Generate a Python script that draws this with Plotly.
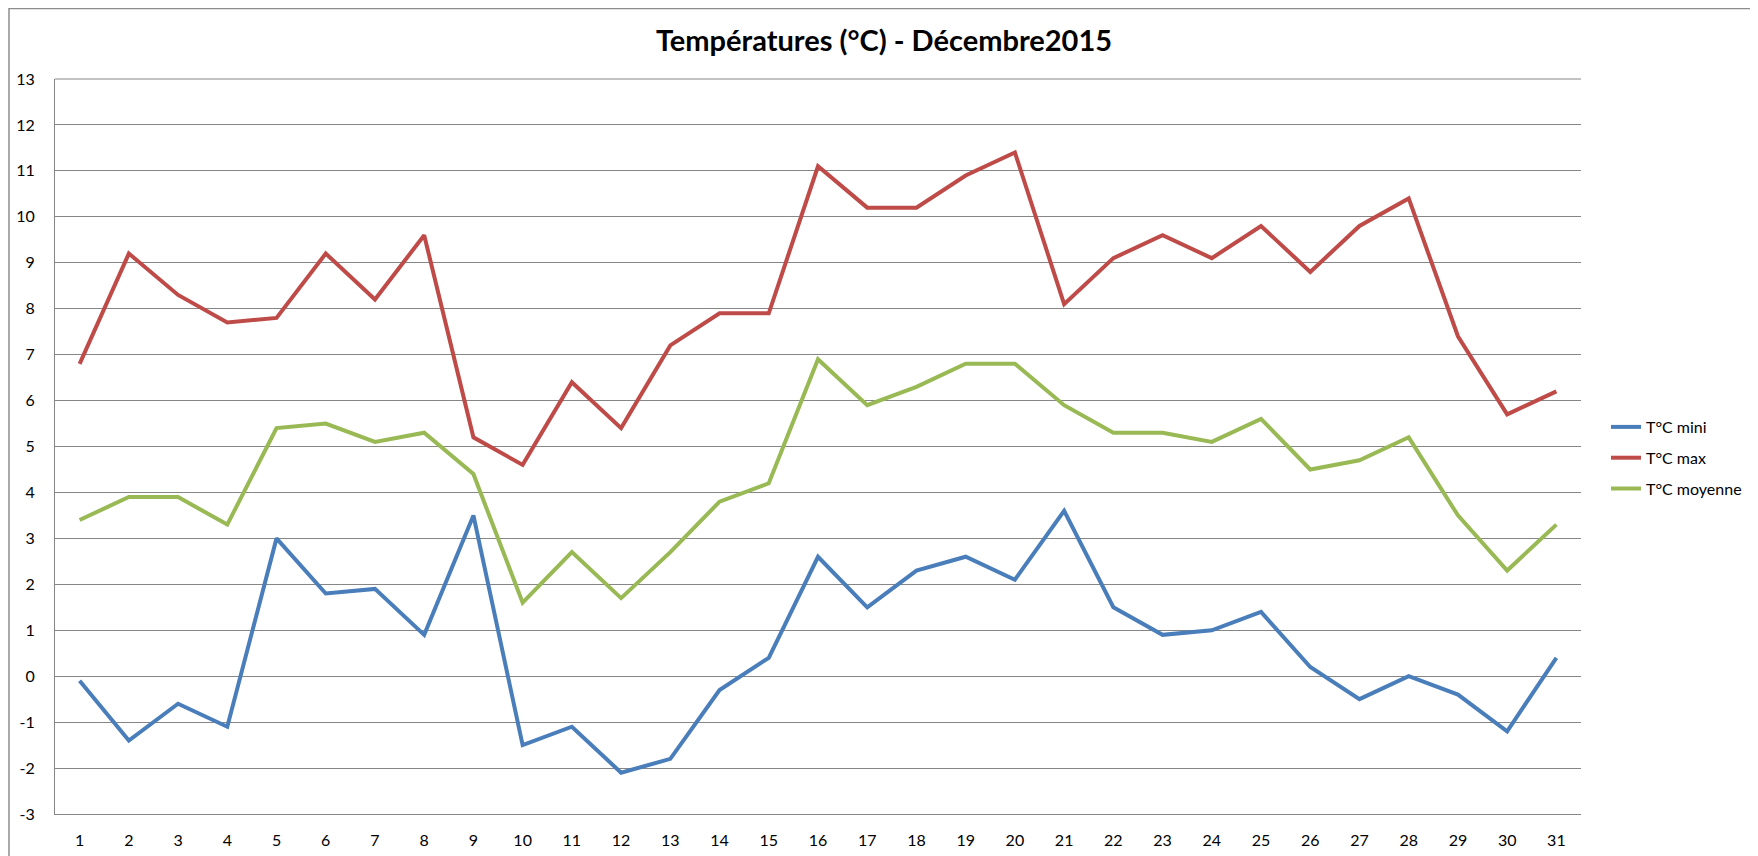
import plotly.graph_objects as go

days = list(range(1, 32))
t_mini = [-0.1, -1.4, -0.6, -1.1, 3.0, 1.8, 1.9, 0.9, 3.5, -1.5, -1.1, -2.1, -1.8, -0.3, 0.4,
          2.6, 1.5, 2.3, 2.6, 2.1, 3.6, 1.5, 0.9, 1.0, 1.4, 0.2, -0.5, 0.0, -0.4, -1.2, 0.4]
t_max = [6.8, 9.2, 8.3, 7.7, 7.8, 9.2, 8.2, 9.6, 5.2, 4.6, 6.4, 5.4, 7.2, 7.9, 7.9,
         11.1, 10.2, 10.2, 10.9, 11.4, 8.1, 9.1, 9.6, 9.1, 9.8, 8.8, 9.8, 10.4, 7.4, 5.7, 6.2]
t_moy = [3.4, 3.9, 3.9, 3.3, 5.4, 5.5, 5.1, 5.3, 4.4, 1.6, 2.7, 1.7, 2.7, 3.8, 4.2,
         6.9, 5.9, 6.3, 6.8, 6.8, 5.9, 5.3, 5.3, 5.1, 5.6, 4.5, 4.7, 5.2, 3.5, 2.3, 3.3]
series_names = ["T°C mini", "T°C max", "T°C moyenne"]
y_ticks = list(range(-3, 14))

colors = ["#4A7EBB", "#BE4B48", "#98B954"]
OFF = 8  # default page body margin
W, H = 1758 - OFF, 856 - OFF
# target page-pixel positions of plot area
PL, PR, PT, PB = 55, 1581, 79, 814
L, T = PL - OFF, PT - OFF
R, B = W - (PR - OFF), H - (PB - OFF)
pw, ph = W - L - R, H - T - B

fig = go.Figure()
for name, vals, c in zip(series_names, [t_mini, t_max, t_moy], colors):
    fig.add_trace(go.Scatter(x=days, y=vals, mode="lines", name=name, legendgroup=name,
                             line=dict(color=c, width=4)))

font = "Lato, 'Open Sans', sans-serif"

def px_x(p):  # page pixel -> paper
    return (p - OFF - L) / pw

def px_y(p):
    return (H - B - (p - OFF)) / ph

fig.update_layout(
    width=W, height=H,
    margin=dict(l=L, r=R, t=T, b=B, autoexpand=False),
    paper_bgcolor="white", plot_bgcolor="white",
    font=dict(family=font, size=16, color="#000000"),
    title=dict(text="<b>Températures (°C) - Décembre2015</b>", x=(884 - OFF) / W, xanchor="center",
               y=1 - (41 - OFF) / H, yanchor="middle", xref="container", yref="container",
               font=dict(family=font, size=29, color="#000000")),
    showlegend=True,
    legend=dict(x=px_x(1606), xanchor="left", y=px_y(410), yanchor="top",
                bgcolor="rgba(0,0,0,0)", tracegroupgap=7,
                font=dict(family=font, size=16, color="#000000")),
    xaxis=dict(range=[0.5, 31.5], tickmode="array", tickvals=days, ticktext=[str(d) for d in days],
               showgrid=False, zeroline=False, showline=True, linecolor="#868686", linewidth=1,
               ticks="", ticklabelstandoff=12, fixedrange=True, automargin=False,
               tickfont=dict(size=16)),
    yaxis=dict(range=[-3, 13], tickmode="array", tickvals=y_ticks, ticktext=[str(v) for v in y_ticks],
               showgrid=True, gridcolor="#868686", gridwidth=1, zeroline=False,
               showline=True, linecolor="#868686", linewidth=1, ticks="",
               ticklabelstandoff=16, fixedrange=True, automargin=False,
               tickfont=dict(size=16)),
    shapes=[
        dict(type="line", xref="paper", yref="paper", x0=px_x(9), x1=px_x(9), y0=px_y(3), y1=px_y(860),
             line=dict(color="#8C8C8C", width=1.5)),
        dict(type="line", xref="paper", yref="paper", x0=px_x(9), x1=px_x(1765), y0=px_y(8.5), y1=px_y(8.5),
             line=dict(color="#8C8C8C", width=1.5)),
        dict(type="line", xref="paper", yref="paper", x0=0, x1=1, y0=1, y1=1,
             line=dict(color="#868686", width=1)),
    ],
)

fig.write_html("out.html")
